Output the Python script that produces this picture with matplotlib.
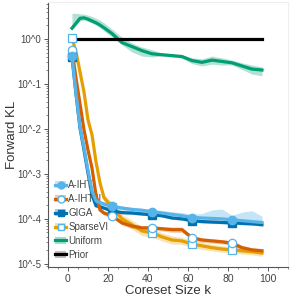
import matplotlib.pyplot as plt
import numpy as np
from matplotlib.lines import Line2D
from matplotlib.patches import Patch
from matplotlib.ticker import FixedLocator, MultipleLocator, LogLocator, NullFormatter

plt.rcParams['font.family'] = ['Liberation Sans', 'DejaVu Sans']

# coreset sizes (x values) and log10 forward KL
k = [2, 4, 6, 8, 10, 12, 14, 16, 18, 22, 27, 32, 37, 42, 47, 52, 57, 62, 67, 72, 77, 82, 87, 92, 97]
marker_idx = [0, 9, 13, 17, 21]

aiht = [-0.38, -1.20, -1.95, -2.42, -2.92, -3.38, -3.60, -3.64, -3.67, -3.72, -3.76, -3.79, -3.81,
        -3.84, -3.87, -3.90, -3.93, -3.97, -3.98, -3.99, -4.00, -4.02, -4.04, -4.06, -4.08]
aiht_hi = [-0.33, -1.15, -1.90, -2.37, -2.87, -3.33, -3.55, -3.59, -3.62, -3.67, -3.71, -3.74, -3.76,
           -3.79, -3.81, -3.84, -3.86, -3.90, -3.88, -3.80, -3.78, -3.92, -3.85, -3.82, -3.94]
aiht_lo = [-0.43, -1.25, -2.00, -2.47, -2.97, -3.43, -3.65, -3.69, -3.72, -3.77, -3.81, -3.84, -3.86,
           -3.88, -3.91, -3.94, -3.97, -4.01, -4.02, -4.03, -4.05, -4.07, -4.09, -4.11, -4.13]

aiht2 = [-0.24, -0.87, -1.44, -2.02, -2.47, -2.87, -3.47, -3.80, -3.87, -3.93, -4.09, -4.16, -4.20,
         -4.20, -4.22, -4.24, -4.24, -4.42, -4.47, -4.49, -4.51, -4.54, -4.64, -4.69, -4.71]
aiht2_sd = [0.04, 0.04, 0.04, 0.04, 0.04, 0.04, 0.05, 0.05, 0.05, 0.05, 0.05, 0.05, 0.05,
            0.05, 0.05, 0.06, 0.06, 0.05, 0.05, 0.05, 0.05, 0.05, 0.05, 0.05, 0.05]

giga = [-0.40, -1.22, -1.98, -2.47, -2.98, -3.47, -3.71, -3.73, -3.76, -3.82, -3.86, -3.87, -3.89,
        -3.91, -3.93, -3.98, -4.00, -4.04, -4.06, -4.07, -4.08, -4.09, -4.10, -4.11, -4.13]
giga_sd = [0.03] * 25

svi = [0.03, -0.29, -0.73, -1.18, -1.80, -2.13, -2.73, -3.20, -3.53, -3.73, -4.00, -4.13, -4.27,
       -4.31, -4.40, -4.47, -4.49, -4.56, -4.60, -4.64, -4.67, -4.69, -4.71, -4.73, -4.76]
svi_sd = [0.05, 0.06, 0.06, 0.06, 0.06, 0.06, 0.08, 0.08, 0.08, 0.10, 0.10, 0.10, 0.10,
          0.10, 0.09, 0.09, 0.08, 0.08, 0.08, 0.07, 0.07, 0.07, 0.07, 0.07, 0.07]

unif = [0.24, 0.35, 0.46, 0.47, 0.44, 0.40, 0.36, 0.31, 0.25, 0.12, -0.08, -0.17, -0.26,
        -0.33, -0.35, -0.37, -0.39, -0.48, -0.52, -0.47, -0.50, -0.53, -0.60, -0.67, -0.69]
unif_hi = [0.57, 0.57, 0.56, 0.55, 0.53, 0.50, 0.46, 0.42, 0.36, 0.22, 0.04, -0.09, -0.18,
           -0.24, -0.32, -0.34, -0.36, -0.42, -0.44, -0.38, -0.42, -0.47, -0.53, -0.58, -0.62]
unif_lo = [0.20, 0.30, 0.40, 0.42, 0.39, 0.35, 0.31, 0.25, 0.18, 0.05, -0.13, -0.29, -0.38,
           -0.40, -0.38, -0.40, -0.43, -0.55, -0.60, -0.56, -0.58, -0.58, -0.68, -0.78, -0.82]

prior = [0.0] * 25

xticks = [0, 20, 40, 60, 80, 100]
yticks = [-5, -4, -3, -2, -1, 0]
ytick_labels = ['10^-5', '10^-4', '10^-3', '10^-2', '10^-1', '10^0']

c_aiht, c_aiht2, c_giga, c_svi, c_unif = '#56B4E9', '#D55E00', '#0072B2', '#E69F00', '#009E73'

fig = plt.figure(figsize=(2.99, 2.99), dpi=100)
ax = fig.add_axes([0.1605, 0.107, 0.8027, 0.886])

x = np.array(k)
def p(v):
    return 10 ** np.array(v)

lw = 2.3
# uniform + prior
ax.fill_between(x, p(unif_lo), p(unif_hi), color=c_unif, alpha=0.3, lw=0, zorder=1)
ax.plot(x, p(unif), color=c_unif, lw=lw, zorder=2)
ax.plot(x, p(prior), color='black', lw=lw, zorder=3)

# sparse VI
s = np.array(svi_sd)
ax.fill_between(x, p(np.array(svi) - s), p(np.array(svi) + s), color=c_svi, alpha=0.3, lw=0, zorder=1)
ax.plot(x, p(svi), color=c_svi, lw=lw, zorder=4, marker='s', markevery=marker_idx, ms=5.5,
        mfc='white', mec=c_aiht, mew=0.9)

# GIGA
s = np.array(giga_sd)
ax.fill_between(x, p(np.array(giga) - s), p(np.array(giga) + s), color=c_giga, alpha=0.3, lw=0, zorder=1)
ax.plot(x, p(giga), color=c_giga, lw=lw, zorder=5, marker='s', markevery=marker_idx, ms=5.5,
        mfc=c_giga, mec=c_giga)

# A-IHT II
s = np.array(aiht2_sd)
ax.fill_between(x, p(np.array(aiht2) - s), p(np.array(aiht2) + s), color=c_aiht2, alpha=0.3, lw=0, zorder=1)
ax.plot(x, p(aiht2), color=c_aiht2, lw=lw, zorder=6, marker='o', markevery=marker_idx, ms=6,
        mfc='white', mec=c_aiht, mew=0.9)

# A-IHT
ax.fill_between(x, p(aiht_lo), p(aiht_hi), color=c_aiht, alpha=0.35, lw=0, zorder=1)
ax.plot(x, p(aiht), color=c_aiht, lw=lw, zorder=7, marker='o', markevery=marker_idx, ms=6,
        mfc=c_aiht, mec=c_aiht)

ax.set_yscale('log')
ax.set_xlim(-10, 110)
ax.set_ylim(10 ** -5.07, 10 ** 0.82)

ax.xaxis.set_major_locator(FixedLocator(xticks))
ax.xaxis.set_minor_locator(MultipleLocator(5))
ax.yaxis.set_major_locator(FixedLocator([10.0 ** t for t in yticks]))
ax.set_yticklabels(ytick_labels)
ax.yaxis.set_minor_locator(LogLocator(base=10, subs=np.arange(2, 10)))
ax.yaxis.set_minor_formatter(NullFormatter())

gray = '#555555'
for side in ['left', 'bottom']:
    ax.spines[side].set_color(gray)
    ax.spines[side].set_linewidth(0.8)
for side in ['top', 'right']:
    ax.spines[side].set_color('#eeeeee')
    ax.spines[side].set_linewidth(0.8)
ax.tick_params(which='major', direction='out', length=3, width=0.7, color=gray,
               labelsize=7.5, labelcolor='#444444', pad=2)
ax.tick_params(axis='y', which='major', labelsize=7)
ax.tick_params(which='minor', direction='out', length=1.5, width=0.5, color=gray)

ax.set_xlabel('Coreset Size k', fontsize=9.5, color='#333333', labelpad=1)
ax.set_ylabel('Forward KL', fontsize=9.5, color='#333333')
ax.yaxis.set_label_coords(-0.125, 0.5)

names = ['A-IHT', 'A-IHT II', 'GIGA', 'SparseVI', 'Uniform', 'Prior']
handles = [
    (Patch(color=c_aiht, alpha=0.35, lw=0), Line2D([], [], color=c_aiht, lw=lw, marker='o', ms=5, mfc=c_aiht, mec=c_aiht)),
    (Patch(color=c_aiht2, alpha=0.35, lw=0), Line2D([], [], color=c_aiht2, lw=lw, marker='o', ms=5, mfc='white', mec=c_aiht)),
    (Patch(color=c_giga, alpha=0.35, lw=0), Line2D([], [], color=c_giga, lw=lw, marker='s', ms=4.5, mfc=c_giga, mec=c_giga)),
    (Patch(color=c_svi, alpha=0.35, lw=0), Line2D([], [], color=c_svi, lw=lw, marker='s', ms=4.5, mfc='white', mec=c_aiht)),
    (Patch(color=c_unif, alpha=0.35, lw=0), Line2D([], [], color=c_unif, lw=lw)),
    (Patch(color='gray', alpha=0.5, lw=0), Line2D([], [], color='black', lw=lw)),
]
leg = ax.legend(handles, names, loc='lower left', bbox_to_anchor=(0.0, 0.0), frameon=False,
                fontsize=7, handlelength=1.1, handletextpad=0.25, labelspacing=0.4,
                borderaxespad=0.35, labelcolor='#444444')

fig.savefig('out.png', dpi=100)
